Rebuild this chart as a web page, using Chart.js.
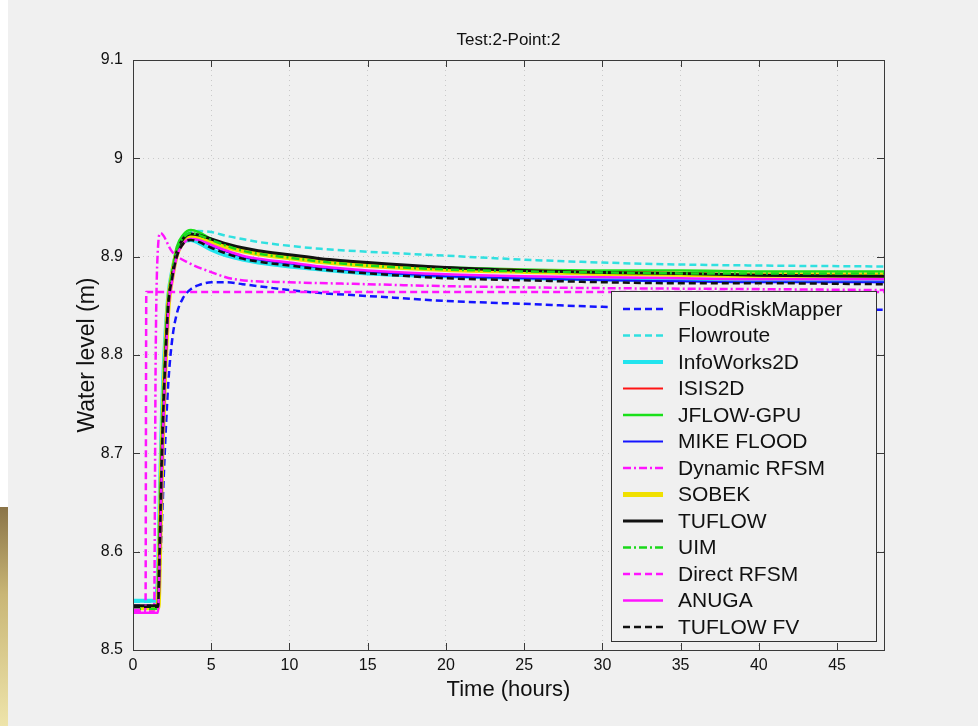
<!DOCTYPE html>
<html>
<head>
<meta charset="utf-8">
<title>Test:2-Point:2</title>
<script src="https://cdn.jsdelivr.net/npm/chart.js@4.4.0/dist/chart.umd.min.js"></script>
<style>
  html, body { margin: 0; padding: 0; background: #f0f0f0; }
  #wrap { position: relative; width: 978px; height: 726px; }
  #edge { position: absolute; left: 0; top: 0; width: 8px; height: 507px; background: #fff; }
  #gold { position: absolute; left: 0; top: 507px; width: 8px; height: 219px;
          background: linear-gradient(to bottom, #8a7448, #c9b676 40%, #eee4aa); }
  canvas { position: absolute; left: 0; top: 0; }
</style>
</head>
<body>
<div id="wrap">
  <div id="edge"></div>
  <div id="gold"></div>
  <canvas id="chart" width="978" height="726"></canvas>
</div>
<script>
// values (water level in m, time in hours)
const xTicks = [0, 5, 10, 15, 20, 25, 30, 35, 40, 45];
const yTicks = [8.5, 8.6, 8.7, 8.8, 8.9, 9.0, 9.1];

const models = ['FloodRiskMapper', 'Flowroute', 'InfoWorks2D', 'ISIS2D', 'JFLOW-GPU', 'MIKE FLOOD',
  'Dynamic RFSM', 'SOBEK', 'TUFLOW', 'UIM', 'Direct RFSM', 'ANUGA', 'TUFLOW FV'];

// shared time axis for the 2D models
const hours = [0, 1.4, 1.6, 1.7, 1.85, 2.0, 2.25, 2.5, 2.8, 3.2, 3.7, 4.2, 5, 6, 7, 8, 10, 12, 15, 20, 25, 30, 35, 40, 48];

const floodRiskMapper = [8.545, 8.545, 8.545, 8.575, 8.63, 8.69, 8.77, 8.815, 8.842, 8.858, 8.867, 8.871, 8.874, 8.874, 8.872, 8.870, 8.866, 8.863, 8.860, 8.855, 8.852, 8.849, 8.848, 8.847, 8.846];
const flowroute = [8.549, 8.549, 8.549, 8.60, 8.70, 8.77, 8.85, 8.88, 8.905, 8.920, 8.925, 8.926, 8.925, 8.921, 8.918, 8.915, 8.911, 8.908, 8.905, 8.901, 8.897, 8.894, 8.892, 8.891, 8.890];
const infoWorks2D = [8.550, 8.550, 8.58, 8.65, 8.74, 8.80, 8.86, 8.885, 8.905, 8.915, 8.917, 8.914, 8.907, 8.901, 8.897, 8.894, 8.890, 8.887, 8.883, 8.880, 8.878, 8.877, 8.876, 8.876, 8.875];
const isis2D = [8.543, 8.543, 8.543, 8.60, 8.70, 8.77, 8.85, 8.88, 8.903, 8.916, 8.921, 8.920, 8.916, 8.911, 8.907, 8.904, 8.900, 8.896, 8.892, 8.888, 8.885, 8.883, 8.882, 8.881, 8.880];
const jflowGpu = [8.542, 8.542, 8.542, 8.61, 8.71, 8.78, 8.855, 8.885, 8.91, 8.922, 8.927, 8.925, 8.918, 8.911, 8.906, 8.903, 8.899, 8.896, 8.892, 8.889, 8.887, 8.886, 8.886, 8.885, 8.885];
const mikeFlood = [8.544, 8.544, 8.544, 8.60, 8.70, 8.77, 8.85, 8.879, 8.902, 8.915, 8.919, 8.917, 8.911, 8.905, 8.900, 8.897, 8.893, 8.889, 8.885, 8.880, 8.878, 8.876, 8.875, 8.874, 8.874];
const sobek = [8.543, 8.543, 8.543, 8.60, 8.70, 8.77, 8.85, 8.88, 8.903, 8.915, 8.920, 8.919, 8.915, 8.910, 8.906, 8.903, 8.899, 8.895, 8.891, 8.887, 8.885, 8.883, 8.882, 8.881, 8.881];
const tuflow = [8.545, 8.545, 8.545, 8.60, 8.70, 8.77, 8.85, 8.88, 8.905, 8.918, 8.923, 8.922, 8.918, 8.913, 8.909, 8.906, 8.902, 8.898, 8.894, 8.889, 8.886, 8.884, 8.883, 8.881, 8.880];
const uim = [8.542, 8.542, 8.542, 8.61, 8.71, 8.78, 8.855, 8.884, 8.907, 8.919, 8.924, 8.922, 8.917, 8.911, 8.906, 8.903, 8.899, 8.895, 8.891, 8.887, 8.885, 8.884, 8.883, 8.883, 8.883];
const anuga = [8.538, 8.538, 8.538, 8.59, 8.69, 8.76, 8.845, 8.875, 8.90, 8.913, 8.918, 8.917, 8.912, 8.906, 8.901, 8.898, 8.894, 8.890, 8.886, 8.882, 8.880, 8.879, 8.878, 8.877, 8.877];
const tuflowFv = [8.544, 8.544, 8.544, 8.60, 8.70, 8.77, 8.85, 8.878, 8.90, 8.913, 8.917, 8.915, 8.909, 8.903, 8.898, 8.895, 8.891, 8.887, 8.883, 8.878, 8.876, 8.874, 8.873, 8.873, 8.872];

// RFSM results have their own time steps
const dynamicHours = [0, 1.35, 1.45, 1.6, 1.75, 2.5, 3.65, 4.7, 6.5, 10, 15, 20, 30, 40, 48];
const dynamicRfsm = [8.540, 8.540, 8.80, 8.91, 8.924, 8.905, 8.893, 8.886, 8.877, 8.874, 8.872, 8.870, 8.868, 8.867, 8.866];
const directHours = [0, 0.8, 0.85, 48];
const directRfsm = [8.541, 8.541, 8.864, 8.864];

const series = [
  [hours, floodRiskMapper], [hours, flowroute], [hours, infoWorks2D], [hours, isis2D],
  [hours, jflowGpu], [hours, mikeFlood], [dynamicHours, dynamicRfsm], [hours, sobek],
  [hours, tuflow], [hours, uim], [directHours, directRfsm], [hours, anuga], [hours, tuflowFv]
];

const dashed = [7, 4];
const dashDot = [8, 3, 2, 3];
const styles = [
  { color: '#1414ff', width: 2.5, dash: dashed },
  { color: '#30e0e0', width: 2.5, dash: dashed },
  { color: '#22e4ee', width: 4, dash: [] },
  { color: '#ff1414', width: 2, dash: [] },
  { color: '#1ae01a', width: 2.5, dash: [] },
  { color: '#1414ff', width: 2, dash: [] },
  { color: '#ff14ff', width: 2.5, dash: dashDot },
  { color: '#f0e000', width: 5, dash: [] },
  { color: '#111111', width: 3, dash: [] },
  { color: '#1ad81a', width: 2.5, dash: dashDot },
  { color: '#ff14ff', width: 2.5, dash: dashed },
  { color: '#ff14ff', width: 2.5, dash: [] },
  { color: '#111111', width: 2.5, dash: dashed }
];

const datasets = models.map((name, i) => {
  const [t, v] = series[i];
  return {
    label: name,
    data: t.map((h, k) => ({ x: h, y: v[k] })),
    borderColor: styles[i].color,
    borderWidth: styles[i].width,
    borderDash: styles[i].dash,
    pointRadius: 0,
    fill: false,
    cubicInterpolationMode: 'monotone',
    order: models.length - 1 - i // later series on top, like the original
  };
});

const FONT = '"Liberation Sans", Arial, sans-serif';

// axes box with inward ticks
const framePlugin = {
  id: 'frame',
  afterDatasetsDraw(chart) {
    const { ctx, chartArea: a, scales } = chart;
    ctx.save();
    ctx.strokeStyle = '#3a3a3a';
    ctx.lineWidth = 1;
    ctx.strokeRect(a.left + 0.5, a.top + 0.5, a.width, a.height);
    ctx.beginPath();
    scales.x.ticks.forEach(t => {
      const px = Math.round(scales.x.getPixelForValue(t.value)) + 0.5;
      ctx.moveTo(px, a.bottom); ctx.lineTo(px, a.bottom - 7);
      ctx.moveTo(px, a.top); ctx.lineTo(px, a.top + 7);
    });
    scales.y.ticks.forEach(t => {
      const py = Math.round(scales.y.getPixelForValue(t.value)) + 0.5;
      ctx.moveTo(a.left, py); ctx.lineTo(a.left + 7, py);
      ctx.moveTo(a.right, py); ctx.lineTo(a.right - 7, py);
    });
    ctx.stroke();
    ctx.restore();
  }
};

// legend box in the lower right of the axes
const legendPlugin = {
  id: 'boxLegend',
  afterDatasetsDraw(chart) {
    const { ctx, chartArea: a } = chart;
    const w = 265, h = 350;
    const x0 = a.right - 8 - w, y0 = a.bottom - 9 - h;
    ctx.save();
    ctx.fillStyle = '#f0f0f0';
    ctx.fillRect(x0, y0, w, h);
    ctx.strokeStyle = '#333';
    ctx.lineWidth = 1;
    ctx.strokeRect(x0 + 0.5, y0 + 0.5, w, h);
    ctx.font = '21px ' + FONT;
    ctx.textBaseline = 'middle';
    chart.data.datasets.forEach((ds, i) => {
      const y = y0 + 18 + i * 26.5;
      ctx.strokeStyle = ds.borderColor;
      ctx.lineWidth = ds.borderWidth;
      ctx.setLineDash(ds.borderDash || []);
      ctx.beginPath();
      ctx.moveTo(x0 + 12, y);
      ctx.lineTo(x0 + 52, y);
      ctx.stroke();
      ctx.setLineDash([]);
      ctx.fillStyle = '#111';
      ctx.fillText(ds.label, x0 + 67, y + 1);
    });
    ctx.restore();
  }
};

new Chart(document.getElementById('chart'), {
  type: 'line',
  data: { datasets: datasets },
  options: {
    responsive: false,
    animation: false,
    layout: { padding: { top: 0, right: 94, bottom: 0, left: 0 } },
    plugins: {
      legend: { display: false },
      tooltip: { enabled: false },
      title: {
        display: true,
        text: 'Test:2-Point:2',
        fullSize: false,
        color: '#111',
        font: { family: FONT, size: 17, weight: 'normal' },
        padding: { top: 30, bottom: 9.6 }
      }
    },
    scales: {
      x: {
        type: 'linear',
        min: 0,
        max: 48,
        afterBuildTicks: s => { s.ticks = xTicks.map(v => ({ value: v })); },
        afterFit: s => { s.height = 76; },
        ticks: { color: '#111', font: { family: FONT, size: 16 }, padding: 6, maxRotation: 0 },
        grid: { color: '#c9c9c9', drawTicks: false },
        border: { display: false, dash: [1, 4] },
        title: {
          display: true, text: 'Time (hours)', color: '#111',
          font: { family: FONT, size: 22 }, padding: { top: 0, bottom: 22.8 }
        }
      },
      y: {
        type: 'linear',
        min: 8.5,
        max: 9.1,
        afterBuildTicks: s => { s.ticks = yTicks.map(v => ({ value: v })); },
        afterFit: s => { s.width = 133; },
        ticks: {
          color: '#111', font: { family: FONT, size: 16 }, padding: 10,
          callback: v => String(Number(v.toFixed(1)))
        },
        grid: { color: '#c9c9c9', drawTicks: false },
        border: { display: false, dash: [1, 4] },
        title: {
          display: true, text: 'Water level (m)', color: '#111',
          font: { family: FONT, size: 23 }, padding: { top: 74, bottom: 0 }
        }
      }
    }
  },
  plugins: [framePlugin, legendPlugin]
});
</script>
</body>
</html>
